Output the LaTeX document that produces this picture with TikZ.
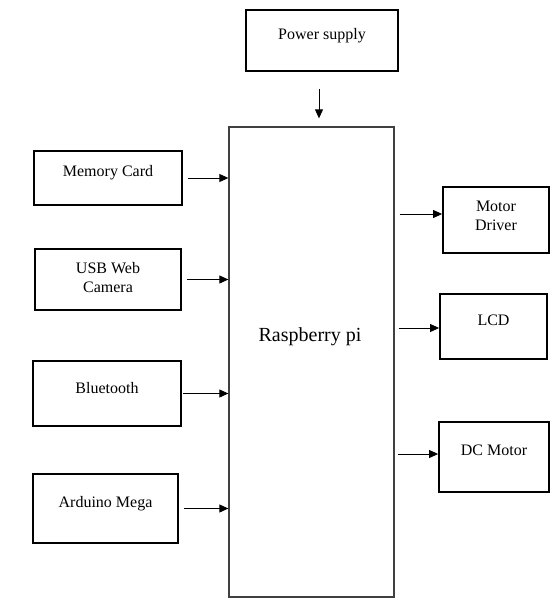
\documentclass[tikz,border=0pt]{standalone}
\usepackage{fontspec}
\setmainfont{Liberation Serif}
\usetikzlibrary{arrows.meta,calc}
\tikzset{
    block/.style =  {rectangle,
                    fill=white,
                    draw=black,
                    line width=1.8pt,
                    inner sep=0pt},
    core/.style =   {rectangle,
                    fill=white,
                    draw=black!75,
                    line width=1.3pt,
                    inner sep=0pt},
    txt/.style =    {text=black,
                    align=center,
                    inner sep=0pt,
                    font=\fontsize{16}{19}\selectfont},
    link/.style =   {->,
                    line width=0.9pt,
                    draw=black},
    >={Triangle[length=9pt,width=8pt]}}
\begin{document}
\begin{tikzpicture}[x=1pt,y=-1pt]
                \useasboundingbox (0,0) rectangle (553,602);
                % boxes
                \node[block,minimum width=152,minimum height=61] (power) at (322,40.5)  {};
                \node[core,minimum width=165,minimum height=470] (pi)    at (311.5,362) {};
                \node[block,minimum width=148,minimum height=54] (mem)   at (108,178)   {};
                \node[block,minimum width=146,minimum height=61] (usb)   at (108,279.5) {};
                \node[block,minimum width=148,minimum height=65] (bt)    at (107,393.5) {};
                \node[block,minimum width=145,minimum height=69] (ard)   at (105.5,508.5) {};
                \node[block,minimum width=106,minimum height=66] (md)    at (496,220)   {};
                \node[block,minimum width=107,minimum height=65] (lcd)   at (493.5,326.5) {};
                \node[block,minimum width=110,minimum height=70] (dc)    at (494,457)   {};
                % texts
                \node[txt] (powert) at ([yshift=5]power.center) {Power supply};
                \node[txt,font=\fontsize{20}{24}\selectfont] (pit) at (310,337) {Raspberry pi};
                \node[txt] (memt)   at ([yshift=5]mem.center)   {Memory Card};
                \node[txt] (usbt)   at ([yshift=1.5]usb.center) {USB Web\\Camera};
                \node[txt] (btt)    at ([yshift=5.5]bt.center)  {Bluetooth};
                \node[txt] (ardt)   at ([yshift=4.5]ard.center) {Arduino Mega};
                \node[txt] (mdt)    at ([yshift=4.5]md.center)  {Motor\\Driver};
                \node[txt] (lcdt)   at ([yshift=6.5]lcd.center) {LCD};
                \node[txt] (dct)    at ([yshift=6.5]dc.center)  {DC Motor};
                % arrows
                \draw[link] ([xshift=-3,yshift=-17]power.south) -- ([xshift=-3,yshift=8]power.south |- pi.north);
                \foreach \n/\d in {mem/5,usb/5,bt/1,ard/5}
                    \draw[link] ([xshift=\d]\n.east) -- (\n.east -| pi.west);
                \draw[link] ([xshift=5,yshift=6]pi.east |- md.west) -- ([yshift=6]md.west);
                \draw[link] ([xshift=4,yshift=-1.5]pi.east |- lcd.west) -- ([yshift=-1.5]lcd.west);
                \draw[link] ([xshift=3,yshift=3]pi.east |- dc.west) -- ([yshift=3]dc.west);
        \end{tikzpicture}
\end{document}
